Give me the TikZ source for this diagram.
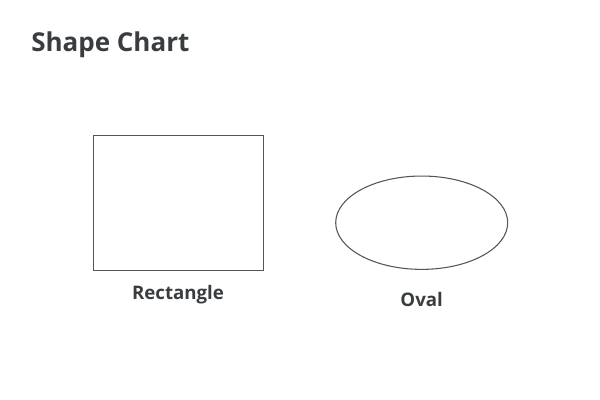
\documentclass[tikz,border=0pt]{standalone}
\usepackage{fontspec}
\setmainfont{Open Sans}
\usetikzlibrary{positioning,shapes.geometric}
\definecolor{inkgray}{HTML}{3A3D40}
\definecolor{linegray}{HTML}{555555}
\tikzset{
  shapeline/.style={draw=linegray, line width=0.8pt, inner sep=0pt},
  shapelabel/.style={text=inkgray, font=\fontsize{14}{16}\selectfont\bfseries}
}
\begin{document}
\begin{tikzpicture}[x=0.75pt, y=-0.75pt]
  \useasboundingbox (0,0) rectangle (600,400);

  % Title
  \node[anchor=base west, inner sep=0pt, text=inkgray, font=\fontsize{19.5}{22}\selectfont\bfseries] (title) at (31,51.5) {Shape Chart};

  % Draw rectangle and its label
  \node[shapeline, rectangle, minimum width=127.5pt, minimum height=101.5pt] (rect) at (178.3,203) {};
  \node[shapelabel, anchor=base] (rectlabel) at (178,299.5) {Rectangle};

  % Draw oval and its label
  \node[shapeline, ellipse, minimum width=129pt, minimum height=70pt] (oval) at (421.7,222.7) {};
  \node[shapelabel, anchor=base] (ovallabel) at (421.7,306) {Oval};
\end{tikzpicture}
\end{document}
